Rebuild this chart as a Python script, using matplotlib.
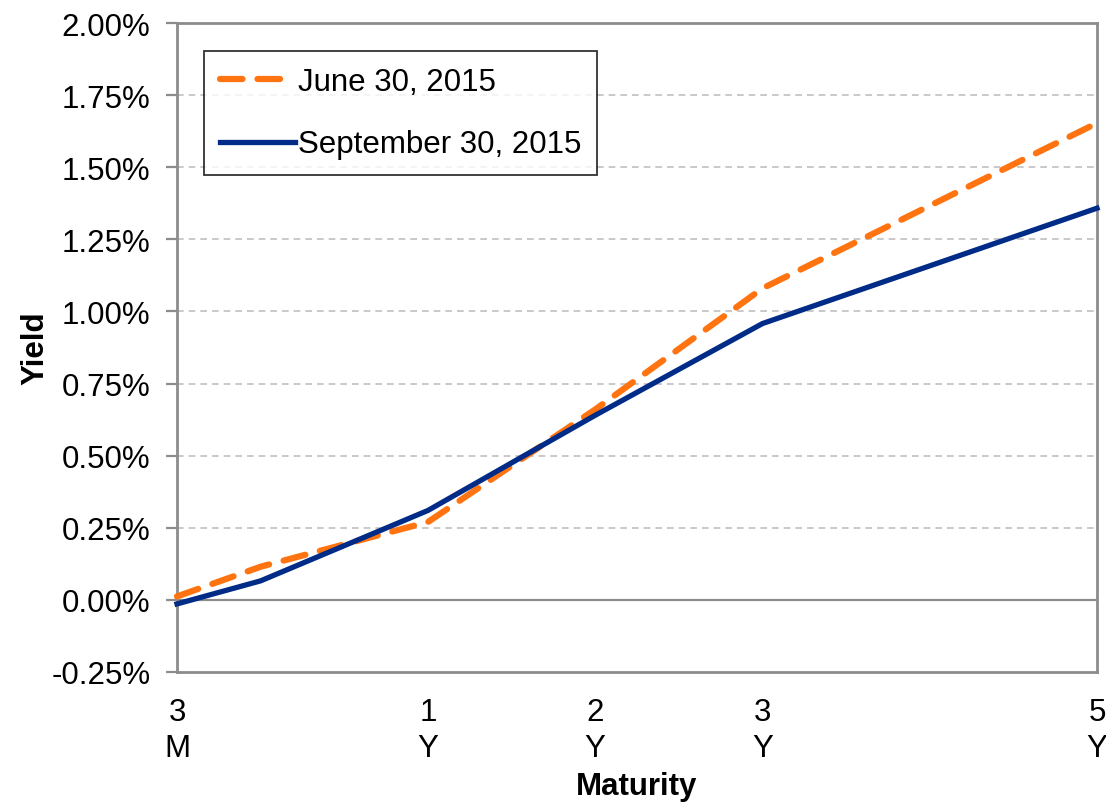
import matplotlib
matplotlib.use('Agg')
import matplotlib.pyplot as plt
from matplotlib.ticker import FuncFormatter

plt.rcParams['font.family'] = ['Liberation Sans', 'DejaVu Sans']

# maturities on an uneven axis: 3M, 6M, 1Y, 2Y, 3Y, 5Y
x_pos = [0, 0.5, 1.5, 2.5, 3.5, 5.5]
tick_pos = [0, 1.5, 2.5, 3.5, 5.5]
tick_labels = ['3\nM', '1\nY', '2\nY', '3\nY', '5\nY']

june = [0.012, 0.115, 0.27, 0.66, 1.08, 1.653]
september = [-0.014, 0.066, 0.31, 0.64, 0.958, 1.358]

gray = '#8c8c8c'
fs = 22.5

fig = plt.figure(figsize=(11.06, 8.03), dpi=100)
ax = fig.add_axes([177/1106, 1 - 673/803, (1097-177)/1106, (673-24)/803])

ax.set_ylim(-0.25, 2.0)
ax.set_xlim(0, 5.5)
yt = [-0.25 + 0.25*i for i in range(10)]
ax.set_yticks(yt)
ax.yaxis.set_major_formatter(FuncFormatter(lambda v, p: '%.2f%%' % v))
for v in yt:
    if v > 0 and v < 2.0:
        ax.axhline(v, color='#c0c0c0', lw=1.2, ls=(0, (4, 3)), zorder=1)
ax.axhline(0, color=gray, lw=1.6, zorder=1)

ax.plot(x_pos, june, color='#ff7410', lw=4.5, ls=(0, (3.6, 2.4)), dash_capstyle='round',
        label='June 30, 2015', zorder=3, clip_on=False)
ax.plot(x_pos, september, color='#002b87', lw=3.8, label='September 30, 2015', zorder=4,
        clip_on=False)

ax.set_xticks(tick_pos)
ax.set_xticklabels(tick_labels, fontsize=fs, linespacing=1.25)
ax.tick_params(axis='x', length=0, pad=18)
ax.tick_params(axis='y', length=8, width=1.6, color=gray, labelsize=fs, pad=11)
for s in ax.spines.values():
    s.set_color(gray)
    s.set_linewidth(2)

ax.set_xlabel('Maturity', fontsize=fs, fontweight='bold', labelpad=6)
ax.set_ylabel('Yield', fontsize=fs, fontweight='bold', labelpad=1)

leg = ax.legend(loc='upper left', bbox_to_anchor=(27/920, 1 - 28/649), fontsize=fs,
                frameon=True, fancybox=False, edgecolor='black', handlelength=2.4,
                handletextpad=0.1, borderpad=0.5, labelspacing=1.05, borderaxespad=0)
leg.get_frame().set_linewidth(1.3)

fig.savefig('out.png', dpi=100)
